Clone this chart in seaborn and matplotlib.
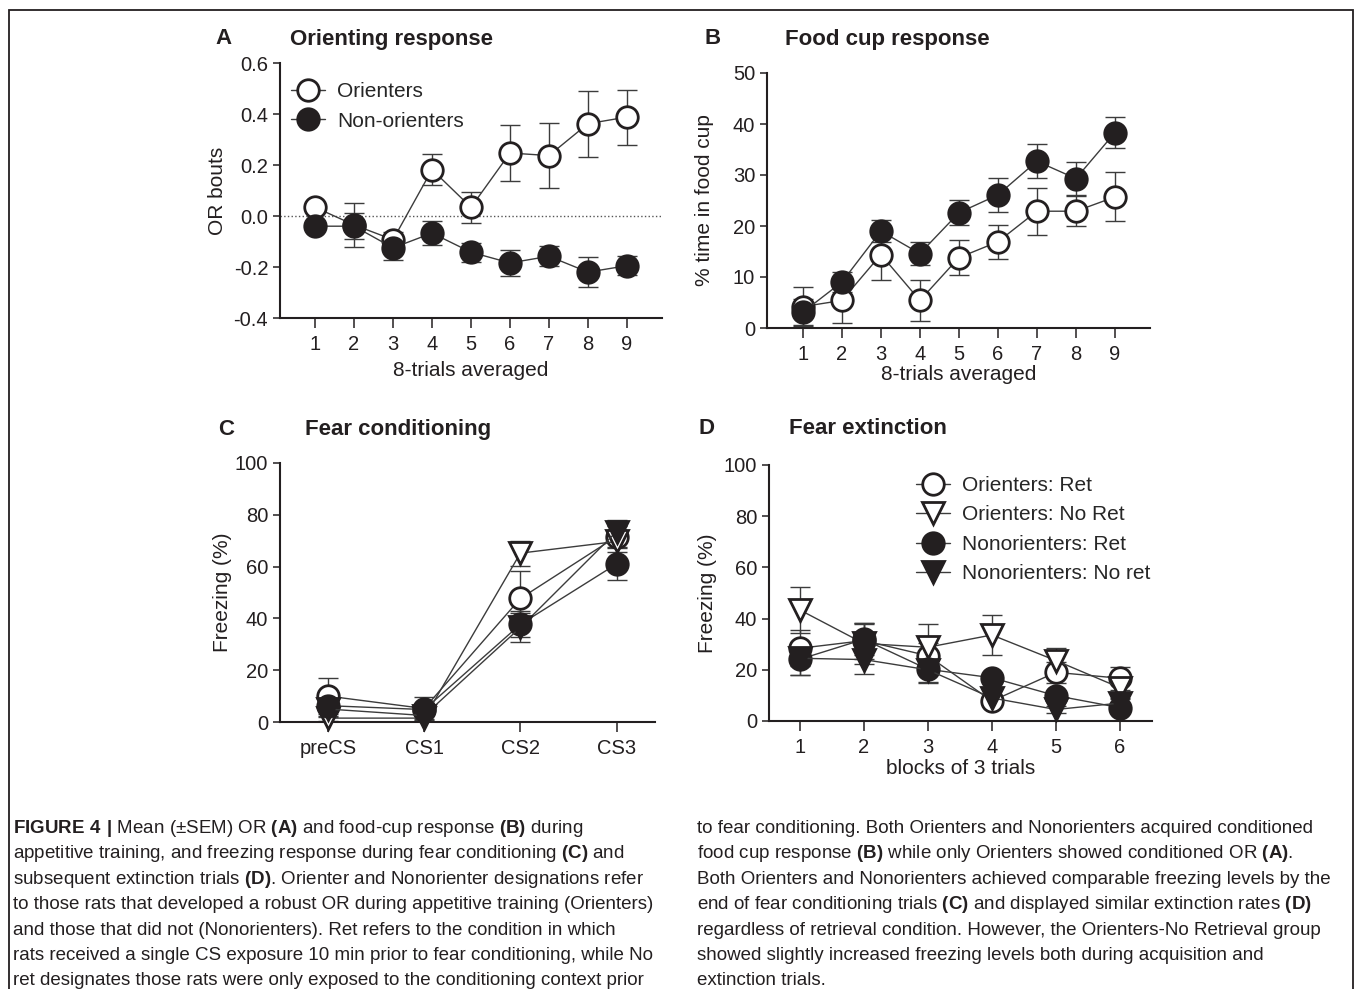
import numpy as np
import matplotlib
matplotlib.use("Agg")
import matplotlib.pyplot as plt
from matplotlib.patches import Rectangle
import seaborn as sns

# ---- values ----
trials = [1, 2, 3, 4, 5, 6, 7, 8, 9]

or_orienters = [0.034, -0.035, -0.093, 0.182, 0.034, 0.247, 0.237, 0.362, 0.388]
or_orienters_sem = [0.01, 0.085, 0.03, 0.06, 0.06, 0.11, 0.128, 0.13, 0.108]
or_nonorienters = [-0.04, -0.04, -0.125, -0.067, -0.142, -0.184, -0.158, -0.22, -0.195]
or_nonorienters_sem = [0.01, 0.05, 0.046, 0.048, 0.038, 0.05, 0.04, 0.06, 0.038]

food_orienters = [4.2, 5.4, 14.4, 5.4, 13.8, 16.9, 22.9, 22.9, 25.7]
food_orienters_sem = [3.8, 4.4, 5.0, 4.0, 3.4, 3.3, 4.6, 2.9, 4.8]
food_nonorienters = [3.1, 9.0, 19.0, 14.6, 22.6, 26.1, 32.7, 29.3, 38.3]
food_nonorienters_sem = [2.6, 1.9, 2.1, 2.3, 2.5, 3.3, 3.3, 3.2, 3.1]

phases = ["preCS", "CS1", "CS2", "CS3"]
cond_or_ret = [10.0, 5.2, 47.7, 71.6]
cond_or_ret_sem = [6.8, 4.5, 10.5, 4.0]
cond_or_noret = [1.5, 1.5, 65.2, 69.7]
cond_or_noret_sem = [1.0, 1.0, 4.8, 4.0]
cond_non_ret = [6.3, 4.8, 37.7, 61.0]
cond_non_ret_sem = [2.5, 2.0, 5.0, 6.0]
cond_non_noret = [5.0, 2.5, 36.5, 73.5]
cond_non_noret_sem = [3.0, 1.5, 5.5, 4.5]

blocks = [1, 2, 3, 4, 5, 6]
ext_or_ret = [28.4, 31.4, 25.5, 7.8, 19.0, 16.7]
ext_or_ret_sem = [7.0, 7.0, 5.0, 2.0, 4.0, 4.5]
ext_or_noret = [43.4, 30.3, 28.8, 33.6, 23.6, 13.0]
ext_or_noret_sem = [9.0, 8.0, 9.0, 7.7, 5.0, 4.0]
ext_non_ret = [24.1, 31.9, 20.2, 16.9, 9.9, 5.2]
ext_non_ret_sem = [6.0, 6.0, 5.0, 1.0, 2.0, 2.0]
ext_non_noret = [24.5, 24.0, 20.0, 9.0, 4.5, 7.0]
ext_non_noret_sem = [6.5, 5.5, 5.0, 1.5, 1.5, 1.5]

caption_left = [
    r"$\mathbf{FIGURE\ 4\ |}$ Mean (±SEM) OR $\mathbf{(A)}$ and food-cup response $\mathbf{(B)}$ during",
    r"appetitive training, and freezing response during fear conditioning $\mathbf{(C)}$ and",
    r"subsequent extinction trials $\mathbf{(D)}$. Orienter and Nonorienter designations refer",
    "to those rats that developed a robust OR during appetitive training (Orienters)",
    "and those that did not (Nonorienters). Ret refers to the condition in which",
    "rats received a single CS exposure 10 min prior to fear conditioning, while No",
    "ret designates those rats were only exposed to the conditioning context prior",
]
caption_right = [
    "to fear conditioning. Both Orienters and Nonorienters acquired conditioned",
    r"food cup response $\mathbf{(B)}$ while only Orienters showed conditioned OR $\mathbf{(A)}$.",
    "Both Orienters and Nonorienters achieved comparable freezing levels by the",
    r"end of fear conditioning trials $\mathbf{(C)}$ and displayed similar extinction rates $\mathbf{(D)}$",
    "regardless of retrieval condition. However, the Orienters-No Retrieval group",
    "showed slightly increased freezing levels both during acquisition and",
    "extinction trials.",
]

# ---- style ----
sns.set_style("ticks")
plt.rcParams["font.family"] = ["Liberation Sans", "DejaVu Sans"]
plt.rcParams["mathtext.fontset"] = "custom"
plt.rcParams["mathtext.rm"] = "Liberation Sans"
plt.rcParams["mathtext.bf"] = "Liberation Sans:bold"
plt.rcParams["axes.unicode_minus"] = False

INK = "#231f20"
BAR = "#3c3c3c"
W, H = 1355, 989

fig = plt.figure(figsize=(W / 100, H / 100), dpi=100)


def px_axes(left, top, right, bottom):
    return fig.add_axes([left / W, 1 - bottom / H, (right - left) / W, (bottom - top) / H])


def series(ax, x, y, sem, marker, filled, label=None):
    ax.errorbar(x, y, yerr=sem, fmt="none", ecolor=BAR, elinewidth=1.0,
                capsize=7.2, capthick=1.0, zorder=2, clip_on=False)
    ms = 15.5 if marker == "o" else 16
    sns.lineplot(x=x, y=y, ax=ax, color=BAR, lw=1.0, marker=marker, markersize=ms,
                 markerfacecolor=INK if filled else "white", markeredgecolor=INK,
                 markeredgewidth=2.0, label=label, zorder=3, clip_on=False,
                 legend=False)


def style_axis(ax, xlim, ylim, yticks):
    ax.set_xlim(*xlim)
    ax.set_ylim(*ylim)
    ax.set_yticks(yticks)
    sns.despine(ax=ax)
    for s in ["left", "bottom"]:
        ax.spines[s].set_linewidth(1.5)
        ax.spines[s].set_color(INK)
    ax.tick_params(axis="x", length=7, width=1.1, pad=5, labelsize=14.5, colors=INK)
    ax.tick_params(axis="y", length=5, width=1.1, pad=3.5, labelsize=14.5, colors=INK)


def panel_title(letter, lx, title, tx, y):
    fig.text(lx / W, 1 - y / H, letter, fontsize=16, weight="bold", va="center", color=INK)
    fig.text(tx / W, 1 - y / H, title, fontsize=16, weight="bold", va="center", color=INK)


legend_kw = dict(loc="upper left", frameon=False, fontsize=15, handlelength=1.6,
                 handletextpad=0.6, labelspacing=0.5, borderpad=0, borderaxespad=0)

# ---- A: orienting response ----
axA = px_axes(280, 63, 662, 318)
axA.axhline(0, ls=":", lw=1.0, color="#555555", zorder=1)
series(axA, trials, or_orienters, or_orienters_sem, "o", False, "Orienters")
series(axA, trials, or_nonorienters, or_nonorienters_sem, "o", True, "Non-orienters")
style_axis(axA, (0.1, 9.9), (-0.4, 0.6), [-0.4, -0.2, 0.0, 0.2, 0.4, 0.6])
axA.set_yticklabels(["-0.4", "-0.2", "0.0", "0.2", "0.4", "0.6"])
axA.set_xticks(trials)
axA.set_ylabel("OR bouts", fontsize=15, color=INK)
axA.set_xlabel("8-trials averaged", fontsize=15, color=INK)
axA.yaxis.set_label_coords(-0.14, 0.5)
axA.xaxis.set_label_coords(0.5, -0.17)
axA.legend(bbox_to_anchor=(0.03, 0.925), **legend_kw)
panel_title("A", 215, "Orienting response", 290, 39)

# ---- B: food cup response ----
axB = px_axes(767, 73, 1150, 328)
series(axB, trials, food_orienters, food_orienters_sem, "o", False)
series(axB, trials, food_nonorienters, food_nonorienters_sem, "o", True)
style_axis(axB, (0.08, 9.9), (0, 50), [0, 10, 20, 30, 40, 50])
axB.set_xticks(trials)
axB.set_ylabel("% time in food cup", fontsize=15, color=INK)
axB.set_xlabel("8-trials averaged", fontsize=15, color=INK)
axB.yaxis.set_label_coords(-0.138, 0.5)
axB.xaxis.set_label_coords(0.5, -0.145)
panel_title("B", 705, "Food cup response", 785, 39)

# ---- C: fear conditioning ----
axC = px_axes(280, 463, 655, 722)
pos = np.arange(len(phases))
series(axC, pos, cond_or_ret, cond_or_ret_sem, "o", False)
series(axC, pos, cond_or_noret, cond_or_noret_sem, "v", False)
series(axC, pos, cond_non_ret, cond_non_ret_sem, "o", True)
series(axC, pos, cond_non_noret, cond_non_noret_sem, "v", True)
style_axis(axC, (-0.5, 3.4), (0, 100), [0, 20, 40, 60, 80, 100])
axC.set_xticks(pos)
axC.set_xticklabels(phases)
axC.set_ylabel("Freezing (%)", fontsize=15, color=INK)
axC.set_xlabel("")
axC.yaxis.set_label_coords(-0.128, 0.5)
panel_title("C", 218, "Fear conditioning", 305, 430)

# ---- D: fear extinction ----
axD = px_axes(769, 465, 1152, 721)
series(axD, blocks, ext_or_ret, ext_or_ret_sem, "o", False, "Orienters: Ret")
series(axD, blocks, ext_or_noret, ext_or_noret_sem, "v", False, "Orienters: No Ret")
series(axD, blocks, ext_non_ret, ext_non_ret_sem, "o", True, "Nonorienters: Ret")
series(axD, blocks, ext_non_noret, ext_non_noret_sem, "v", True, "Nonorienters: No ret")
style_axis(axD, (0.52, 6.5), (0, 100), [0, 20, 40, 60, 80, 100])
axD.set_xticks(blocks)
axD.set_ylabel("Freezing (%)", fontsize=15, color=INK)
axD.set_xlabel("blocks of 3 trials", fontsize=15, color=INK)
axD.yaxis.set_label_coords(-0.136, 0.5)
axD.xaxis.set_label_coords(0.5, -0.15)
axD.legend(bbox_to_anchor=(0.385, 0.957), **legend_kw)
panel_title("D", 698, "Fear extinction", 789, 429)

# ---- caption ----
for i, line in enumerate(caption_left):
    fig.text(13 / W, 1 - (833 + 25.4 * i) / H, line, fontsize=13.5, va="baseline", color=INK)
for i, line in enumerate(caption_right):
    fig.text(697 / W, 1 - (833 + 25.4 * i) / H, line, fontsize=13.5, va="baseline", color=INK)

# frame around the figure
fig.patches.append(Rectangle((9 / W, -0.05), (1353 - 9) / W, 1.05 - 10 / H,
                             transform=fig.transFigure, fill=False, lw=1.3,
                             edgecolor=INK))

fig.savefig("out.png", dpi=100)
